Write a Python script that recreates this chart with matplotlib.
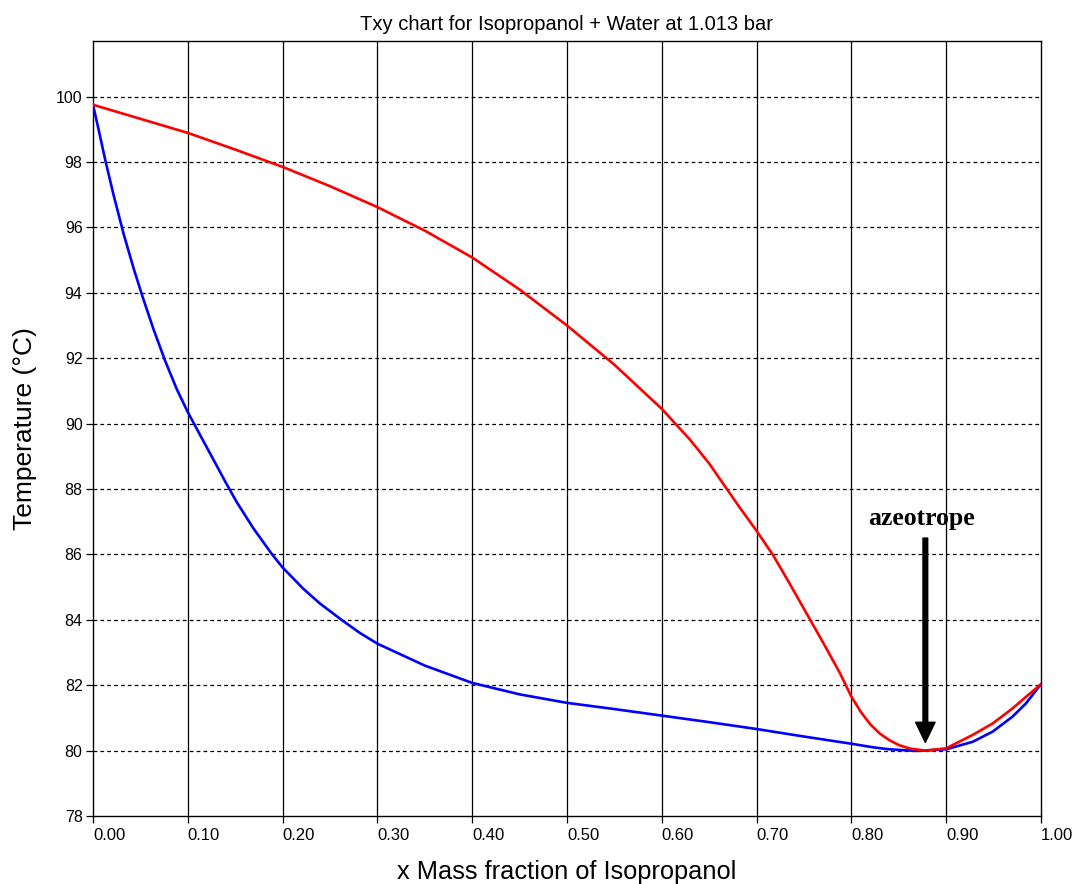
import numpy as np
import matplotlib
matplotlib.use("Agg")
import matplotlib.pyplot as plt

plt.rcParams['font.family'] = ['Liberation Sans', 'DejaVu Sans']

# liquid (bubble) curve
x_liq = [0.0, 0.006, 0.013, 0.0218, 0.0323, 0.0428, 0.0526, 0.0639, 0.0761, 0.0884,
         0.1, 0.113, 0.127, 0.14, 0.1516, 0.1691, 0.1884, 0.2, 0.2218, 0.2393,
         0.2621, 0.2814, 0.3, 0.35, 0.4, 0.45, 0.5, 0.55, 0.6, 0.65, 0.7, 0.75,
         0.8, 0.823, 0.84, 0.869, 0.9, 0.928, 0.949, 0.97, 0.984, 1.0]
T_liq = [99.75, 98.98, 98.05, 96.98, 95.8, 94.75, 93.85, 92.88, 91.92, 91.05,
         90.35, 89.65, 88.9, 88.2, 87.6, 86.8, 86.02, 85.6, 84.95, 84.5,
         84.0, 83.6, 83.27, 82.6, 82.07, 81.72, 81.46, 81.27, 81.07, 80.87, 80.66, 80.43,
         80.21, 80.1, 80.04, 79.99, 80.04, 80.27, 80.58, 81.04, 81.44, 82.03]

# vapour (dew) curve
x_vap = [0.0, 0.05, 0.1, 0.15, 0.2, 0.25, 0.3, 0.35, 0.4, 0.45, 0.5, 0.55, 0.6,
         0.63, 0.65, 0.665, 0.6825, 0.7, 0.7175, 0.735, 0.7526, 0.7702, 0.7877,
         0.8, 0.81, 0.82, 0.83, 0.84, 0.85, 0.862, 0.878, 0.9, 0.928, 0.949, 0.97,
         0.984, 1.0]
T_vap = [99.75, 99.32, 98.89, 98.38, 97.85, 97.26, 96.62, 95.9, 95.08, 94.1, 93.0,
         91.8, 90.45, 89.5, 88.78, 88.15, 87.42, 86.72, 85.97, 85.1, 84.2, 83.3,
         82.38, 81.65, 81.18, 80.8, 80.52, 80.32, 80.17, 80.06, 80.0, 80.07, 80.48,
         80.83, 81.29, 81.64, 82.03]

x_ticks = [0.0, 0.1, 0.2, 0.3, 0.4, 0.5, 0.6, 0.7, 0.8, 0.9, 1.0]
y_ticks = [78, 80, 82, 84, 86, 88, 90, 92, 94, 96, 98, 100]

fig = plt.figure(figsize=(10.78, 8.84), dpi=100)
ax = fig.add_axes([93/1078, 1 - 816/884, (1041 - 93)/1078, (816 - 41)/884])

# grid: solid verticals, dashed horizontals
for xv in x_ticks[1:-1]:
    ax.axvline(xv, color='black', lw=0.9, zorder=1)
for yv in y_ticks[1:]:
    ax.axhline(yv, color='black', lw=0.9, ls=(0, (3, 2.5)), zorder=1)

ax.plot(x_liq, T_liq, color='#0000ff', lw=1.9, zorder=3)
ax.plot(x_vap, T_vap, color='#ff0000', lw=1.9, zorder=4)

ax.set_xlim(0, 1)
ax.set_ylim(78, 101.7)
ax.set_xticks(x_ticks)
ax.set_xticklabels([f"{v:.2f}" for v in x_ticks], ha='left')
ax.set_yticks(y_ticks)
ax.tick_params(axis='both', length=5, width=0.9, color='black')
ax.tick_params(axis='x', labelsize=12, pad=4)
ax.tick_params(axis='y', labelsize=11.5, pad=2.5)
for s in ax.spines.values():
    s.set_linewidth(1.0)

ax.set_title("Txy chart for Isopropanol + Water at 1.013 bar", fontsize=14.5, pad=8)
ax.set_xlabel("x Mass fraction of Isopropanol", fontsize=18.3, labelpad=12)
ax.set_ylabel("Temperature (\u00b0C)", fontsize=19, labelpad=14)

ax.annotate("", xy=(0.878, 80.25), xytext=(0.878, 86.5),
            arrowprops=dict(facecolor='black', edgecolor='black', width=3.4,
                            headwidth=14, headlength=14.5, shrink=0), zorder=5)
ax.text(0.874, 87.1, "azeotrope", ha='center', va='center', fontsize=18.5,
        fontweight='bold', family=['Liberation Serif', 'DejaVu Serif'])

fig.savefig("out.png", dpi=100)
